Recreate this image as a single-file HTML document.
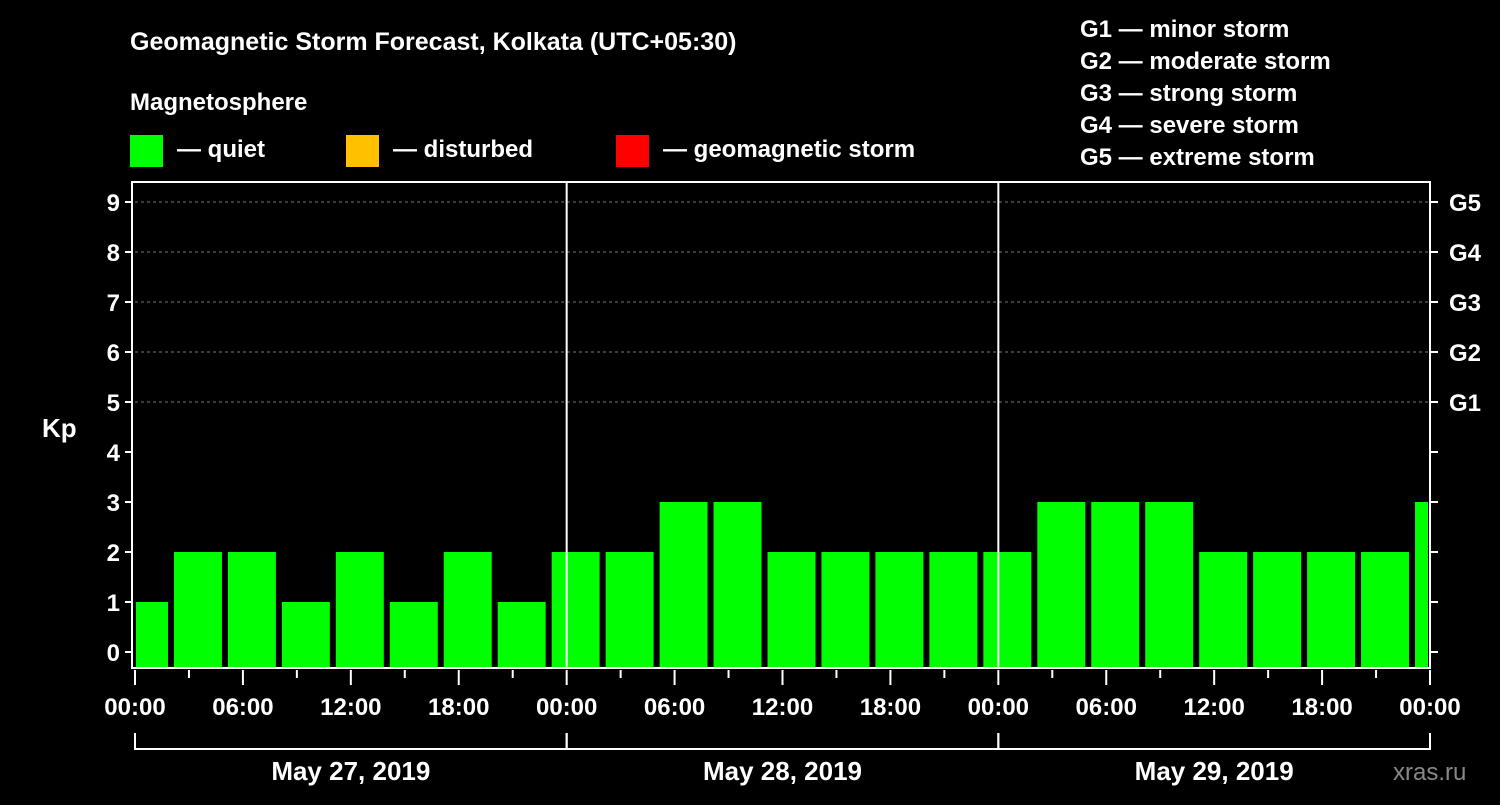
<!DOCTYPE html>
<html><head><meta charset="utf-8"><style>
body{margin:0;background:#000;width:1500px;height:800px;overflow:hidden}
svg{font-family:"Liberation Sans",Arial,sans-serif;font-weight:bold}
</style></head><body>
<svg id="c" width="1500" height="800" xmlns="http://www.w3.org/2000/svg">
<rect width="1500" height="800" fill="#000"/>
<text x="130" y="50" fill="#fff" font-size="25">Geomagnetic Storm Forecast, Kolkata (UTC+05:30)</text>
<text x="130" y="110" fill="#fff" font-size="24">Magnetosphere</text>
<g><rect x="130" y="135" width="33" height="32" fill="#00ff00"/><text x="177" y="157" fill="#fff" font-size="24">— quiet</text></g>
<g><rect x="346" y="135" width="33" height="32" fill="#ffc000"/><text x="393" y="157" fill="#fff" font-size="24">— disturbed</text></g>
<g><rect x="616" y="135" width="33" height="32" fill="#ff0000"/><text x="663" y="157" fill="#fff" font-size="24">— geomagnetic storm</text></g>
<g fill="#fff" font-size="24">
<text x="1080" y="37">G1 — minor storm</text><text x="1080" y="69">G2 — moderate storm</text><text x="1080" y="101">G3 — strong storm</text><text x="1080" y="133">G4 — severe storm</text><text x="1080" y="165">G5 — extreme storm</text></g>
<text x="42" y="437" fill="#fff" font-size="26">Kp</text>
<text x="1393" y="780" fill="#888" font-size="24" font-weight="normal">xras.ru</text>
<g id="plot"></g>
</svg>
<script>
const kpValues=[1,2,2,1,2,1,2,1,2,2,3,3,2,2,2,2,2,3,3,3,2,2,2,2,3];
const yTicks=[0,1,2,3,4,5,6,7,8,9];
const gLabels=["G1","G2","G3","G4","G5"];
const xTickLabels=["00:00","06:00","12:00","18:00"];
const dayLabels=["May 27, 2019","May 28, 2019","May 29, 2019"];
const NS="http://www.w3.org/2000/svg";
const g=document.getElementById('plot');
const L=135,R=1430,T=182,B=668,dayW=(R-L)/3;
const y=v=>652-50*v;
const xh=h=>L+h*dayW/24;
function el(t,a){const e=document.createElementNS(NS,t);for(const k in a)e.setAttribute(k,a[k]);g.appendChild(e);return e;}
// gridlines
for(let v=5;v<=9;v++){const e=el('line',{x1:L,x2:R,y1:y(v),y2:y(v),stroke:'#777','stroke-dasharray':'3,3'});}
// bars: first partial bin 0..2h, then 3h bins
kpValues.forEach((v,i)=>{let s=i===0?0:2+3*(i-1),e2=i===0?2:s+3;let x1=xh(s)+(i===0?1:3),x2=Math.min(xh(e2)-3,R-2);
const r=el('rect',{x:x1,y:y(v),width:Math.max(0,x2-x1),height:B-y(v),fill:v>=5?'#ff0000':v>=4?'#ffc000':'#00ff00'});
});
// day separators
for(let d=1;d<3;d++){const e=el('line',{x1:xh(24*d),x2:xh(24*d),y1:T,y2:B,stroke:'#fff','stroke-width':2});}
// frame
const f=el('rect',{x:L-3,y:T,width:R-L+3,height:B-T,fill:'none',stroke:'#fff','stroke-width':2});
// y ticks
yTicks.forEach(v=>{el('line',{x1:L-10,x2:L-3,y1:y(v),y2:y(v),stroke:'#fff','stroke-width':2});el('line',{x1:R,x2:R+8,y1:y(v),y2:y(v),stroke:'#fff','stroke-width':2});
const t=el('text',{x:L-15,y:y(v)+9,fill:'#fff','font-size':24,'text-anchor':'end'});t.textContent=v;});
gLabels.forEach((s,i)=>{const t=el('text',{x:1449,y:y(5+i)+9,fill:'#fff','font-size':24});t.textContent=s;});
// x ticks
for(let h=0;h<=72;h+=3){const maj=h%6===0;el('line',{x1:xh(h),x2:xh(h),y1:B+2,y2:B+(maj?17:10),stroke:'#fff','stroke-width':2});
if(maj){const t=el('text',{x:xh(h),y:715,fill:'#fff','font-size':24,'text-anchor':'middle'});t.textContent=xTickLabels[(h/6)%4];}}
// day brackets
dayLabels.forEach((s,d)=>{const x1=xh(24*d),x2=xh(24*d+24);
el('path',{d:`M${x1},733 V749 H${x2} V733`,fill:'none',stroke:'#fff','stroke-width':2});
const t=el('text',{x:(x1+x2)/2,y:780,fill:'#fff','font-size':26,'text-anchor':'middle'});t.textContent=s;});
</script>
</body></html>
